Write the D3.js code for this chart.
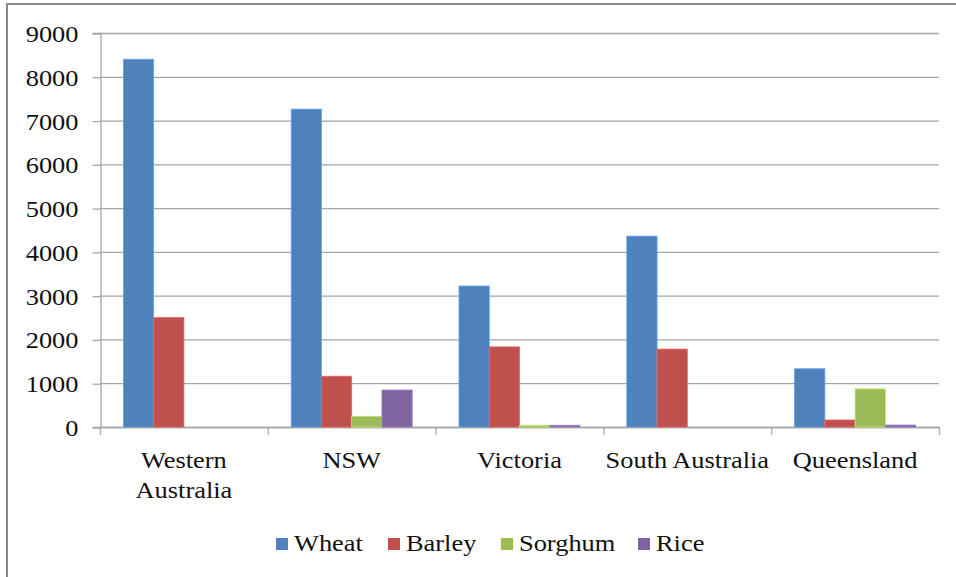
<!DOCTYPE html>
<html>
<head>
<meta charset="utf-8">
<script src="https://cdn.jsdelivr.net/npm/d3@7"></script>
<style>
  html, body { margin: 0; padding: 0; background: #fff; }
  .lbl { font-family: 'Liberation Serif'; fill: #111; }
</style>
</head>
<body>
<svg id="chart" width="956" height="577"></svg>
<script>
// Grain production by state
const states = ["Western Australia", "NSW", "Victoria", "South Australia", "Queensland"];
const stateLines = [["Western", "Australia"], ["NSW"], ["Victoria"], ["South Australia"], ["Queensland"]];
const crops = ["Wheat", "Barley", "Sorghum", "Rice"];
const wheat   = [8400, 7260, 3220, 4360, 1330];
const barley  = [2500, 1160, 1830, 1780, 160];
const sorghum = [0, 245, 40, 0, 870];
const rice    = [0, 845, 40, 0, 45];
const yTicks  = [0, 1000, 2000, 3000, 4000, 5000, 6000, 7000, 8000, 9000];
const colors  = ["#4f81bd", "#c0504d", "#9bbb59", "#8064a2"];

const seriesValues = [wheat, barley, sorghum, rice];
const FS = 24;       // label font size
const SX = 1.1;      // horizontal stretch of label glyphs

const svg = d3.select("#chart");
const margin = { left: 100, right: 939, top: 33, bottom: 427 };

// Outer frame (left and top edges)
svg.append("path")
  .attr("d", "M7,577 V4 H956")
  .attr("fill", "none")
  .attr("stroke", "#888")
  .attr("stroke-width", 2);

const x0 = d3.scaleBand().domain(states).range([margin.left, margin.right]).paddingInner(0).paddingOuter(0);
const innerPad = 23.4;
const x1 = d3.scaleBand().domain(crops).range([innerPad, x0.bandwidth() - innerPad]).padding(0);
const y = d3.scaleLinear().domain([0, 9000]).range([margin.bottom, margin.top]);

// Horizontal gridlines
svg.append("g").selectAll("line").data(yTicks).join("line")
  .attr("x1", margin.left).attr("x2", margin.right)
  .attr("y1", d => y(d) + 0.5).attr("y2", d => y(d) + 0.5)
  .attr("stroke", "#a6a6a6").attr("stroke-width", 1.3);

// Y axis
const yAxis = svg.append("g")
  .attr("transform", `translate(${margin.left + 0.5},0)`)
  .call(d3.axisLeft(y).tickValues(yTicks).tickSize(8).tickFormat(d3.format("d")));
yAxis.select(".domain").attr("stroke", "#a6a6a6").attr("stroke-width", 1.3);
yAxis.selectAll(".tick line").attr("stroke", "#a6a6a6").attr("stroke-width", 1.3).attr("transform", "translate(0,0.5)");
yAxis.selectAll(".tick text")
  .attr("class", "lbl")
  .attr("x", null).attr("dy", null)
  .attr("fill", "#111")
  .attr("font-size", FS)
  .style("font-family", "'Liberation Serif'")
  .attr("text-anchor", "end")
  .attr("transform", `translate(-22,8.5) scale(${SX},1)`);

// X axis with ticks at category boundaries
const xAxisG = svg.append("g");
xAxisG.append("line")
  .attr("x1", margin.left).attr("x2", margin.right)
  .attr("y1", margin.bottom + 0.5).attr("y2", margin.bottom + 0.5)
  .attr("stroke", "#a6a6a6").attr("stroke-width", 1.3);
const boundaries = states.map(s => x0(s)).concat([x0(states[states.length - 1]) + x0.bandwidth()]);
xAxisG.selectAll("line.tk").data(boundaries).join("line")
  .attr("class", "tk")
  .attr("x1", d => d + 0.5).attr("x2", d => d + 0.5)
  .attr("y1", margin.bottom).attr("y2", margin.bottom + 8)
  .attr("stroke", "#a6a6a6").attr("stroke-width", 1.3);

// Category labels
const catLabels = svg.append("g").selectAll("text").data(states).join("text")
  .attr("class", "lbl")
  .attr("transform", d => `translate(${x0(d) + x0.bandwidth() / 2},468) scale(${SX},1)`)
  .attr("text-anchor", "middle")
  .attr("font-size", FS)
  .style("font-family", "'Liberation Serif'");
catLabels.each(function(d, i) {
  const t = d3.select(this);
  stateLines[i].forEach((line, j) => {
    t.append("tspan")
      .attr("x", 0)
      .attr("dy", j === 0 ? 0 : 30)
      .text(line);
  });
});

// Bars
const groups = svg.append("g").selectAll("g").data(states).join("g")
  .attr("transform", d => `translate(${x0(d)},0)`);
groups.selectAll("rect")
  .data((d, i) => crops.map((c, k) => ({ crop: c, value: seriesValues[k][i], color: colors[k] })))
  .join("rect")
  .attr("x", d => x1(d.crop))
  .attr("width", x1.bandwidth())
  .attr("y", d => y(d.value))
  .attr("height", d => y(0) - y(d.value))
  .attr("fill", d => d.color)
  .attr("stroke", d => d3.color(d.color).brighter(0.6))
  .attr("stroke-width", d => d.value > 0 ? 0.8 : 0);

// Legend
const legendX = [276, 388, 501, 638];
const legend = svg.append("g").selectAll("g").data(crops).join("g")
  .attr("transform", (d, i) => `translate(${legendX[i]},538)`);
legend.append("rect")
  .attr("x", 0).attr("y", 0).attr("width", 12).attr("height", 12)
  .attr("fill", (d, i) => colors[i]);
legend.append("text")
  .attr("class", "lbl")
  .attr("transform", `translate(18,13) scale(${SX},1)`)
  .attr("font-size", FS)
  .style("font-family", "'Liberation Serif'")
  .text(d => d);
</script>
</body>
</html>
